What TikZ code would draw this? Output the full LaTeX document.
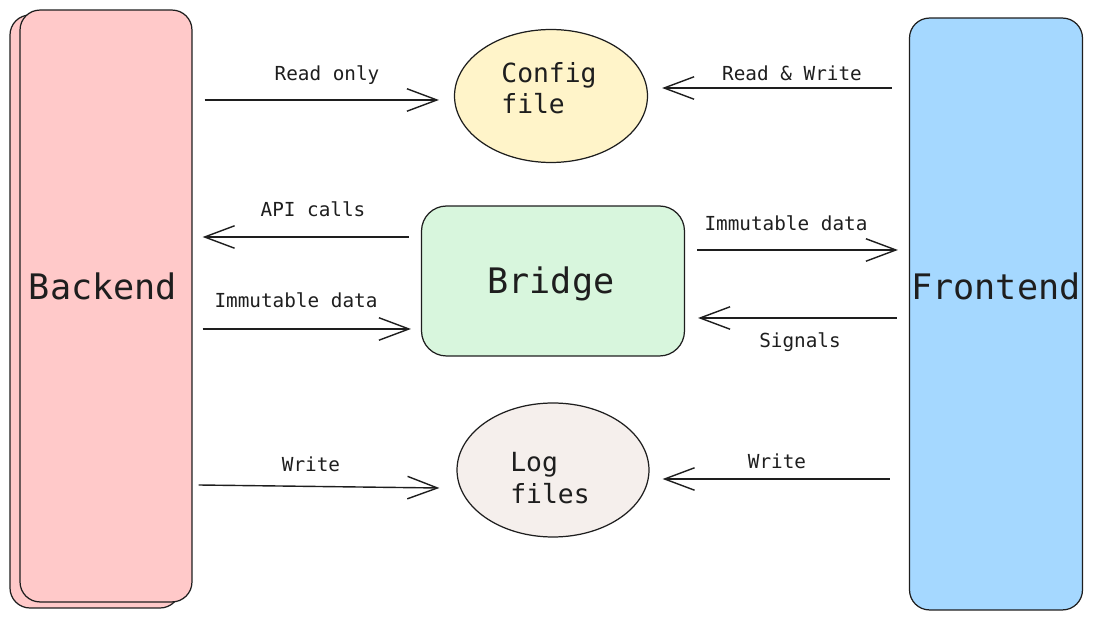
\documentclass[tikz,border=0pt]{standalone}
\usepackage{fontspec}
\setmonofont{DejaVu Sans Mono}
\usepackage{xcolor}
\usepackage{tikz}
\usetikzlibrary{shapes.geometric,arrows.meta}
\definecolor{ink}{HTML}{1E1E1E}
\definecolor{backfill}{HTML}{FFC9C9}
\definecolor{frontfill}{HTML}{A5D8FF}
\definecolor{cfgfill}{HTML}{FFF4C9}
\definecolor{bridgefill}{HTML}{D8F6DD}
\definecolor{logfill}{HTML}{F5EFEC}
\tikzset{
  block/.style={draw=ink, line width=0.7pt, rounded corners=0.4cm, inner sep=0pt},
  blob/.style={ellipse, draw=ink, line width=0.7pt, inner sep=0pt},
  blobtext/.style={align=left, font=\fontsize{15}{18}\selectfont\ttfamily, text=ink},
  flow/.style={draw=ink, line width=0.8pt, -{Straight Barb[length=0.6cm,width=0.45cm]}},
  lbl/.style={font=\fontsize{11}{13}\selectfont\ttfamily, text=ink},
  big/.style={font=\fontsize{20}{24}\selectfont\ttfamily, text=ink}
}

\begin{document}
\begin{tikzpicture}[x=0.02cm, y=-0.02cm]
\useasboundingbox (0,0) rectangle (1093,621);
% backend, with the copy behind it
\draw[block, fill=backfill] (10,15) rectangle (180,608);
\node[block, fill=backfill, minimum width=3.44cm, minimum height=11.84cm] (backend) at (106,306) {};
\node[big] at (103,286) {Backend};
% frontend
\node[block, fill=frontfill, minimum width=3.46cm, minimum height=11.84cm] (front) at (996,314) {};
\node[big] at (996,286) {Frontend};
% middle column
\node[blob, fill=cfgfill, minimum width=3.86cm, minimum height=2.66cm] (cfg) at (551,96) {};
\node[blobtext] at (549,88) {Config\\file};
\node[block, fill=bridgefill, rounded corners=0.5cm, minimum width=5.26cm, minimum height=3cm] (bridge) at (553,281) {};
\node[big] at (551,284) {Bridge};
\node[blob, fill=logfill, minimum width=3.84cm, minimum height=2.68cm] (logf) at (553,470) {};
\node[blobtext] at (550,478) {Log\\files};
% connectors
\draw[flow] ([xshift=0.24cm]backend.east |- 0,100) -- ([xshift=-0.3cm]cfg.west |- 0,100);
\draw[flow] ([xshift=-0.34cm]front.west |- 0,88) -- ([xshift=0.28cm]cfg.east |- 0,88);
\draw[flow] ([xshift=-0.24cm]bridge.west |- 0,237) -- ([xshift=0.2cm]backend.east |- 0,237);
\draw[flow] ([xshift=0.2cm]backend.east |- 0,329) -- ([xshift=-0.2cm]bridge.west |- 0,329);
\draw[flow] ([xshift=0.24cm]bridge.east |- 0,250) -- ([xshift=-0.22cm]front.west |- 0,250);
\draw[flow] ([xshift=-0.24cm]front.west |- 0,318) -- ([xshift=0.26cm]bridge.east |- 0,318);
\draw[flow] ([xshift=0.12cm]backend.east |- 0,485) -- ([xshift=-0.34cm]logf.west |- 0,488);
\draw[flow] ([xshift=-0.38cm]front.west |- 0,479) -- ([xshift=0.26cm]logf.east |- 0,479);
% labels
\node[lbl] at (327,75) {Read only};
\node[lbl] at (792,73) {Read \& Write};
\node[lbl] at (313,209) {API calls};
\node[lbl] at (296,300) {Immutable data};
\node[lbl] at (786,223) {Immutable data};
\node[lbl] at (800,342) {Signals};
\node[lbl] at (311,464) {Write};
\node[lbl] at (777,461) {Write};
\end{tikzpicture}
\end{document}
